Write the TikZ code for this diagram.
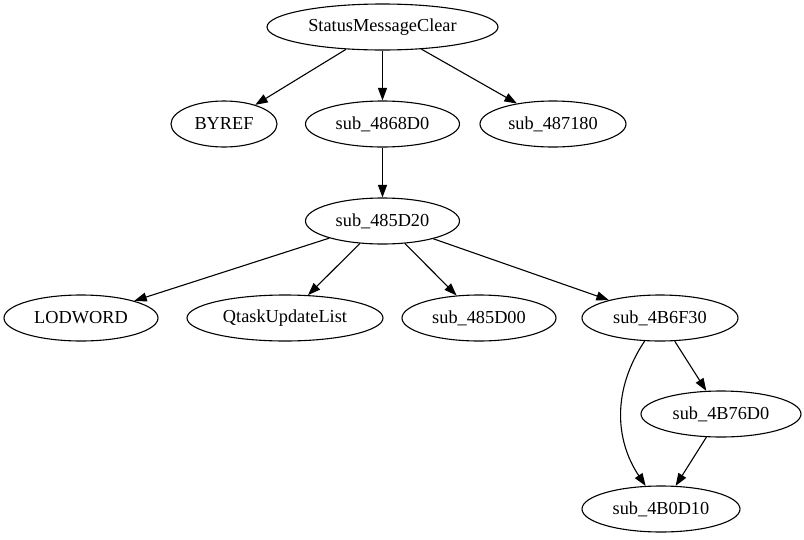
\documentclass[tikz,border=0pt]{standalone}
\usepackage{fontspec}
\setmainfont{Liberation Serif}
\usetikzlibrary{arrows.meta,shapes.geometric}
\tikzset{fn/.style={draw,ellipse,line width=1.1pt,inner sep=0pt,minimum height=46pt,font=\rmfamily\fontsize{18.3}{22}\selectfont},call/.style={-{Triangle[length=12.5pt,width=9pt]},line width=1.1pt}}

\begin{document}
\begin{tikzpicture}[x=1pt,y=-1pt]
\useasboundingbox (0,0) rectangle (804,539);
\node[fn,minimum width=231pt] (smc) at (382.5,27) {StatusMessageClear};
\node[fn,minimum width=106pt] (byref) at (224,124) {BYREF};
\node[fn,minimum width=154pt] (s4868) at (382.5,124) {sub\_4868D0};
\node[fn,minimum width=146pt] (s4871) at (553,124) {sub\_487180};
\node[fn,minimum width=154pt] (s485d20) at (382.5,221) {sub\_485D20};
\node[fn,minimum width=154pt] (lodw) at (81,318) {LODWORD};
\node[fn,minimum width=196pt] (qtask) at (285,318) {QtaskUpdateList};
\node[fn,minimum width=154pt] (s485d00) at (479,318) {sub\_485D00};
\node[fn,minimum width=156pt] (s4b6f) at (660,318) {sub\_4B6F30};
\node[fn,minimum width=160pt] (s4b76) at (721,414) {sub\_4B76D0};
\node[fn,minimum width=158pt] (s4b0d) at (661,509) {sub\_4B0D10};
\draw[call](smc)--(byref);\draw[call](smc)--(s4868);\draw[call](smc)--(s4871);
\draw[call](s4868)--(s485d20);
\draw[call](s485d20)--(lodw);\draw[call](s485d20)--(qtask);
\draw[call](s485d20)--(s485d00);\draw[call](s485d20)--(s4b6f);
\draw[call](s4b6f)--(s4b76);\draw[call](s4b76)--(s4b0d);
\draw[call](s4b6f) .. controls (612,390) and (615,440) .. (s4b0d);
\end{tikzpicture}
\end{document}
